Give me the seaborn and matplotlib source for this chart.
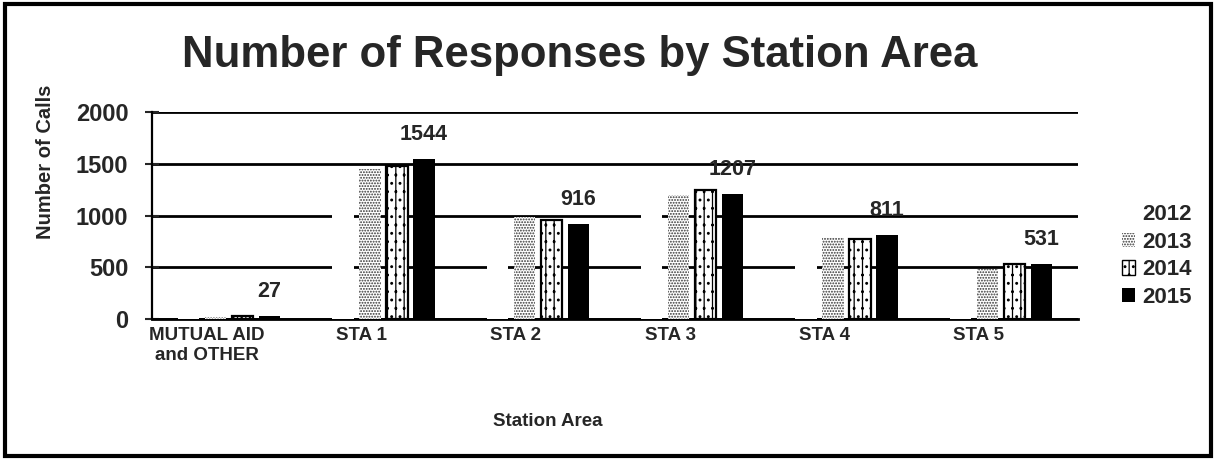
import pandas as pd
import seaborn as sns
import matplotlib.pyplot as plt
import matplotlib.transforms as mtransforms
from matplotlib.patches import Rectangle, Patch

areas = ["MUTUAL AID\nand OTHER", "STA 1", "STA 2", "STA 3", "STA 4", "STA 5"]
years = ["2012", "2013", "2014", "2015"]
calls_2012 = [5, 1400, 900, 1150, 750, 450]
calls_2013 = [15, 1450, 990, 1200, 795, 485]
calls_2014 = [25, 1480, 960, 1250, 775, 530]
calls_2015 = [27, 1544, 916, 1207, 811, 531]

rows = []
for yr, vals in zip(years, [calls_2012, calls_2013, calls_2014, calls_2015]):
    for a, v in zip(areas, vals):
        rows.append({"Station Area": a, "Year": yr, "Calls": v})
df = pd.DataFrame(rows)

sns.set_style("white")
plt.rcParams["font.family"] = ["Liberation Sans", "DejaVu Sans"]
plt.rcParams["font.weight"] = "bold"
plt.rcParams["hatch.linewidth"] = 0.9

fig = plt.figure(figsize=(12.16, 4.59), dpi=100)
ax = fig.add_axes([0.125, 0.305, 0.7615, 0.451])

sns.barplot(data=df, x="Station Area", y="Calls", hue="Year",
            palette=["white"] * 4, width=0.70, gap=0.2, ax=ax, zorder=3)

# bar styles per year (2012 is plain white in the original)
faces = ["white", "white", "white", "black"]
hatches = [None, "......", "||..", None]
edges = ["white", "#333333", "black", "black"]
lws = [0, 0, 1.6, 0]
for i, cont in enumerate(ax.containers):
    for bar in cont:
        bar.set_facecolor(faces[i])
        bar.set_edgecolor(edges[i])
        bar.set_linewidth(lws[i])
        if hatches[i]:
            bar.set_hatch(hatches[i])

ax.bar_label(ax.containers[3], labels=[str(v) for v in calls_2015],
             padding=10, fontsize=15.5, fontweight="bold", zorder=4)

ax.set_ylim(0, 2000)
ax.set_yticks([0, 500, 1000, 1500, 2000])
ax.grid(axis="y", color="black", linewidth=2, zorder=1)
ax.set_axisbelow(True)
for s in ["top", "right"]:
    ax.spines[s].set_visible(False)
ax.spines["left"].set_linewidth(1.6)
ax.spines["bottom"].set_linewidth(2)
ax.spines["left"].set_color("black")
ax.spines["bottom"].set_color("black")
ax.tick_params(axis="y", direction="inout", length=10, width=1.5,
               labelsize=17, pad=12, left=True)
ax.tick_params(axis="x", length=0, labelsize=13.5, pad=6)
for t in ax.get_yticklabels():
    t.set_fontweight("bold")
shift = mtransforms.ScaledTranslation(-22 / 100, 0, fig.dpi_scale_trans)
for t in ax.get_xticklabels():
    t.set_fontweight("bold")
    t.set_transform(t.get_transform() + shift)

ax.set_xlabel("")
ax.set_ylabel("")
fig.text(46 / 1216, 1 - 162 / 459, "Number of Calls", rotation=90,
         ha="center", va="center", fontsize=14.5, fontweight="bold")
fig.text(548 / 1216, 1 - 422 / 459, "Station Area", ha="center", va="center",
         fontsize=13.5, fontweight="bold")
fig.text(580 / 1216, 1 - 56 / 459, "Number of Responses by Station Area",
         ha="center", va="center", fontsize=31.5, fontweight="bold")

ax.legend_.remove()
handles = [Patch(facecolor=faces[i], edgecolor=edges[i], hatch=hatches[i],
                 linewidth=1.0 if i == 2 else 0) for i in range(4)]
leg = fig.legend(handles, years, loc="center left",
                 bbox_to_anchor=(1102 / 1216, 1 - 256 / 459),
                 frameon=False, fontsize=16, handlelength=0.6,
                 handleheight=0.6, handletextpad=0.3, labelspacing=0.3)
for txt in leg.get_texts():
    txt.set_fontweight("bold")

fig.patches.append(Rectangle((0.004, 0.006), 0.992, 0.986, transform=fig.transFigure,
                             fill=False, edgecolor="black", linewidth=3))

plt.savefig("out.png", dpi=100)
